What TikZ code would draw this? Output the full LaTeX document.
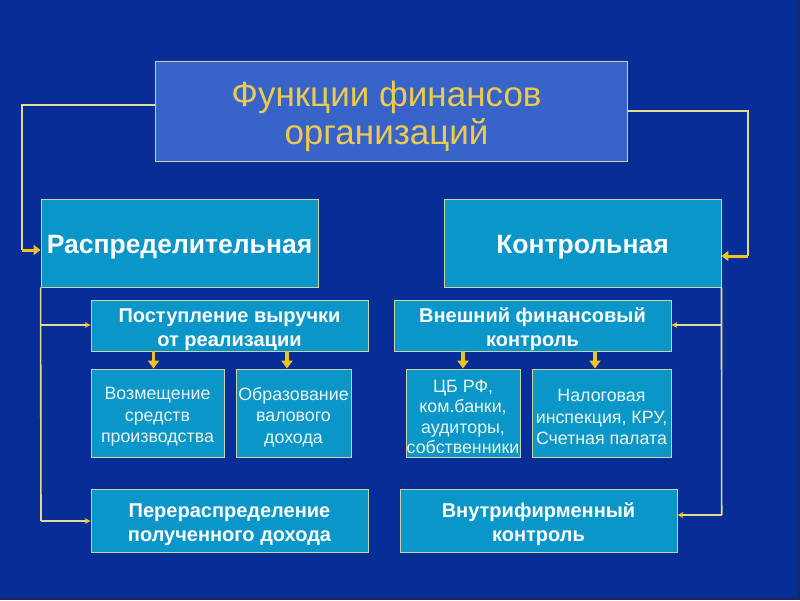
\documentclass[tikz,border=0pt]{standalone}
\usepackage{fontspec}
\setmainfont{Liberation Sans}
\usetikzlibrary{arrows.meta}
\definecolor{bg}{RGB}{6,46,150}
\definecolor{bgdark}{RGB}{20,40,110}
\definecolor{titlefill}{RGB}{56,100,202}
\definecolor{cyanfill}{RGB}{10,150,200}
\definecolor{boxline}{RGB}{205,210,165}
\definecolor{titletext}{RGB}{236,202,80}
\definecolor{conn}{RGB}{228,218,145}
\definecolor{gold}{RGB}{240,196,30}
\definecolor{lighttext}{RGB}{235,248,240}
\tikzset{
  basebox/.style={draw=boxline, line width=0.9pt, inner sep=0pt},
  boxtext/.style={align=center, inner sep=0pt, yshift=-4pt},
  titlebox/.style={basebox, fill=titlefill},
  titletxt/.style={boxtext, yshift=-1pt, xshift=-5pt, text=titletext, font=\fontsize{35}{38}\selectfont},
  cyanbox/.style={basebox, fill=cyanfill},
  maintxt/.style={boxtext, text=white, font=\bfseries\fontsize{26.5}{30}\selectfont},
  subtxt/.style={boxtext, text=white, font=\bfseries\fontsize{20}{24}\selectfont},
  leaftxt/.style={boxtext, text=lighttext, font=\fontsize{17.8}{21.5}\selectfont},
  leaftxttight/.style={boxtext, text=lighttext, font=\fontsize{17.8}{20.6}\selectfont},
  conline/.style={draw=conn, line width=1.6pt},
  smallarrow/.style={draw=conn, line width=1.6pt, -{Stealth[length=6pt,width=6pt,color=gold]}},
  thickarrow/.style={draw=gold, line width=3pt, -{Triangle[length=7pt,width=10pt]}},
  downarrow/.style={draw=gold, line width=3.5pt, -{Triangle[length=8pt,width=11pt]}}
}
\begin{document}
\begin{tikzpicture}[x=1pt,y=-1pt]
\fill[bg] (0,0) rectangle (800,600);
\fill[bgdark] (797,0) rectangle (800,600);
\fill[bgdark] (0,597) rectangle (800,600);
\useasboundingbox (0,0) rectangle (800,600);

% boxes (centre, size from pixel corners)
\node[titlebox, minimum width=472pt, minimum height=100pt,
  label={[titletxt]center:{Функции финансов\\организаций}}] (title) at (391.5,111.5) {};
\node[cyanbox, minimum width=277pt, minimum height=88pt,
  label={[maintxt]center:{Распределительная}}] (rasp) at (179.5,243) {};
\node[cyanbox, minimum width=277pt, minimum height=88pt,
  label={[maintxt]center:{Контрольная}}] (kontr) at (582.5,243) {};
\node[cyanbox, minimum width=277pt, minimum height=51pt,
  label={[subtxt]center:{Поступление выручки\\от реализации}}] (post) at (229.5,325.5) {};
\node[cyanbox, minimum width=277pt, minimum height=51pt,
  label={[subtxt]center:{Внешний финансовый\\контроль}}] (vnesh) at (532.5,325.5) {};
\node[cyanbox, minimum width=133pt, minimum height=88pt,
  label={[leaftxt]center:{Возмещение\\средств\\производства}}] (vozm) at (157.5,413) {};
\node[cyanbox, minimum width=115pt, minimum height=88pt,
  label={[leaftxt]center:{Образование\\валового\\дохода}}] (obraz) at (293.5,413) {};
\node[cyanbox, minimum width=114pt, minimum height=88pt,
  label={[leaftxttight]center:{ЦБ РФ,\\ком.банки,\\аудиторы,\\собственники}}] (cb) at (463,413) {};
\node[cyanbox, minimum width=139pt, minimum height=88pt,
  label={[leaftxt]center:{Налоговая\\инспекция, КРУ,\\Счетная палата}}] (nalog) at (601.5,413) {};
\node[cyanbox, minimum width=277pt, minimum height=63pt,
  label={[subtxt]center:{Перераспределение\\полученного дохода}}] (perer) at (229.5,520.5) {};
\node[cyanbox, minimum width=277pt, minimum height=63pt,
  label={[subtxt]center:{Внутрифирменный\\контроль}}] (vnutr) at (538.5,520.5) {};

% connectors from title
\coordinate (lturn) at (22,105);
\coordinate (ldown) at (22,250);
\coordinate (rturn) at (748,111);
\coordinate (rdown) at (748,256);
\draw[conline] (title.west |- lturn) -- (lturn) -- (ldown);
\draw[thickarrow] (ldown) -- (rasp.west |- ldown);
\draw[conline] (title.east |- rturn) -- (rturn) -- (rdown);
\draw[thickarrow] (rdown) -- (kontr.east |- rdown);

% left trunk
\coordinate (lbot) at (41,521);
\draw[conline] (rasp.south west) -- (lbot);
\coordinate (lb1) at (41,325);
\draw[smallarrow] (lb1) -- (post.west |- lb1);
\draw[smallarrow] (lbot) -- (perer.west |- lbot);

% right trunk
\coordinate (rbot) at (721.7,515);
\draw[conline] (kontr.south east) -- (rbot);
\coordinate (rb1) at (721.7,325);
\draw[smallarrow] (rb1) -- (vnesh.east |- rb1);
\draw[smallarrow] (rbot) -- (vnutr.east |- rbot);

% down arrows
\draw[downarrow] (post.south -| 153.5,0) -- (vozm.north -| 153.5,0);
\draw[downarrow] (post.south -| 287,0) -- (obraz.north -| 287,0);
\draw[downarrow] (vnesh.south -| 463,0) -- (cb.north -| 463,0);
\draw[downarrow] (vnesh.south -| 595,0) -- (nalog.north -| 595,0);
\end{tikzpicture}
\end{document}
